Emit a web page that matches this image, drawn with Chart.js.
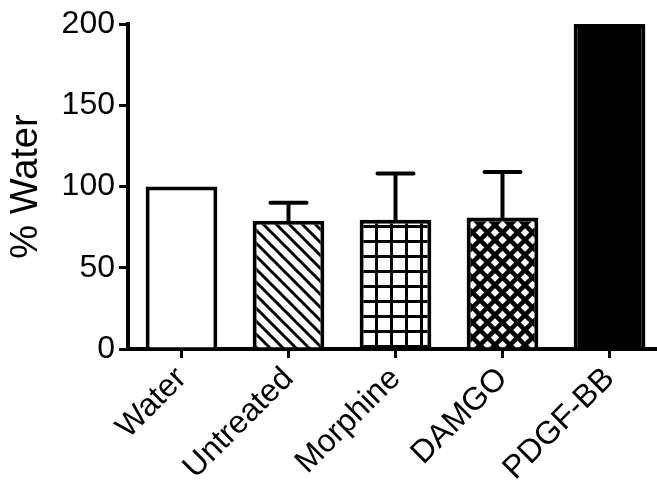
<!DOCTYPE html>
<html>
<head>
<meta charset="utf-8">
<script src="https://cdn.jsdelivr.net/npm/chart.js@4"></script>
<style>
  html, body { margin: 0; padding: 0; overflow: hidden; background: #fff; }
</style>
</head>
<body>
<canvas id="water_chart" width="665" height="493"></canvas>
<script>
const categories = ['Water', 'Untreated', 'Morphine', 'DAMGO', 'PDGF-BB'];
const values = [100, 79, 79.5, 81, 200];
const errors = [null, 11, 28.5, 28, null];
const yTicks = [0, 50, 100, 150, 200];

function make_pattern(size, draw) {
  const c = document.createElement('canvas');
  c.width = size;
  c.height = size;
  const ctx = c.getContext('2d');
  ctx.fillStyle = '#fff';
  ctx.fillRect(0, 0, size, size);
  ctx.strokeStyle = '#000';
  draw(ctx, size);
  return ctx.createPattern(c, 'repeat');
}

// "\" stripes
const hatch = make_pattern(13, function (ctx, s) {
  ctx.lineWidth = 3;
  for (let k = -1; k <= 1; k++) {
    ctx.beginPath();
    ctx.moveTo(k * s - 2, -2);
    ctx.lineTo(k * s + s + 2, s + 2);
    ctx.stroke();
  }
});

// square grid
const grid = make_pattern(15, function (ctx, s) {
  ctx.fillStyle = '#000';
  ctx.fillRect(0, 0, 3, s);
  ctx.fillRect(0, 0, s, 3);
});

// diagonal crosshatch
const cross = make_pattern(15, function (ctx, s) {
  ctx.lineWidth = 4.5;
  for (let k = -1; k <= 1; k++) {
    ctx.beginPath();
    ctx.moveTo(k * s - 2, -2);
    ctx.lineTo(k * s + s + 2, s + 2);
    ctx.stroke();
    ctx.beginPath();
    ctx.moveTo(k * s + s + 2, -2);
    ctx.lineTo(k * s - 2, s + 2);
    ctx.stroke();
  }
});

const errorBars = {
  id: 'errorBars',
  afterDatasetsDraw(chart) {
    const ctx = chart.ctx;
    const meta = chart.getDatasetMeta(0);
    const y = chart.scales.y;
    ctx.save();
    ctx.strokeStyle = '#000';
    ctx.lineWidth = 4;
    ctx.lineCap = 'round';
    meta.data.forEach(function (bar, i) {
      if (errors[i] == null) return;
      const yTop = y.getPixelForValue(values[i] + errors[i]);
      const yBase = y.getPixelForValue(values[i]);
      ctx.beginPath();
      ctx.moveTo(bar.x, yBase);
      ctx.lineTo(bar.x, yTop);
      ctx.moveTo(bar.x - 18, yTop);
      ctx.lineTo(bar.x + 18, yTop);
      ctx.stroke();
    });
    ctx.restore();
  }
};

const font = "Arial, 'Liberation Sans', sans-serif";

new Chart(document.getElementById('water_chart'), {
  type: 'bar',
  data: {
    labels: categories,
    datasets: [{
      data: values,
      backgroundColor: ['#fff', hatch, grid, cross, '#000'],
      borderColor: '#000',
      borderWidth: 4,
      barPercentage: 0.67,
      categoryPercentage: 1
    }]
  },
  options: {
    responsive: false,
    animation: false,
    layout: { padding: { top: 24, right: 2, left: 0, bottom: 0 } },
    plugins: { legend: { display: false }, tooltip: { enabled: false } },
    scales: {
      x: {
        afterFit(scale) {
          scale.height = 144;
          scale.paddingLeft = 0;
          scale.paddingRight = 0;
        },
        border: { display: true, color: '#000', width: 4 },
        grid: {
          display: true,
          offset: false,
          drawOnChartArea: false,
          drawTicks: true,
          tickLength: 9,
          color: '#000',
          lineWidth: 3
        },
        ticks: {
          color: '#000',
          font: { family: font, size: 32 },
          minRotation: 45,
          maxRotation: 45,
          padding: 2
        }
      },
      y: {
        min: 0,
        max: 200,
        afterFit(scale) {
          scale.width = 128;
        },
        afterBuildTicks(scale) {
          scale.ticks = yTicks.map(v => ({ value: v }));
        },
        border: { display: true, color: '#000', width: 4 },
        grid: {
          display: true,
          drawOnChartArea: false,
          drawTicks: true,
          tickLength: 9,
          color: '#000',
          lineWidth: 3
        },
        ticks: {
          color: '#000',
          font: { family: font, size: 32 },
          padding: 4
        },
        title: {
          display: true,
          text: '% Water',
          color: '#000',
          font: { family: font, size: 38 },
          padding: { top: 4, bottom: 0 }
        }
      }
    }
  },
  plugins: [errorBars]
});
</script>
</body>
</html>
